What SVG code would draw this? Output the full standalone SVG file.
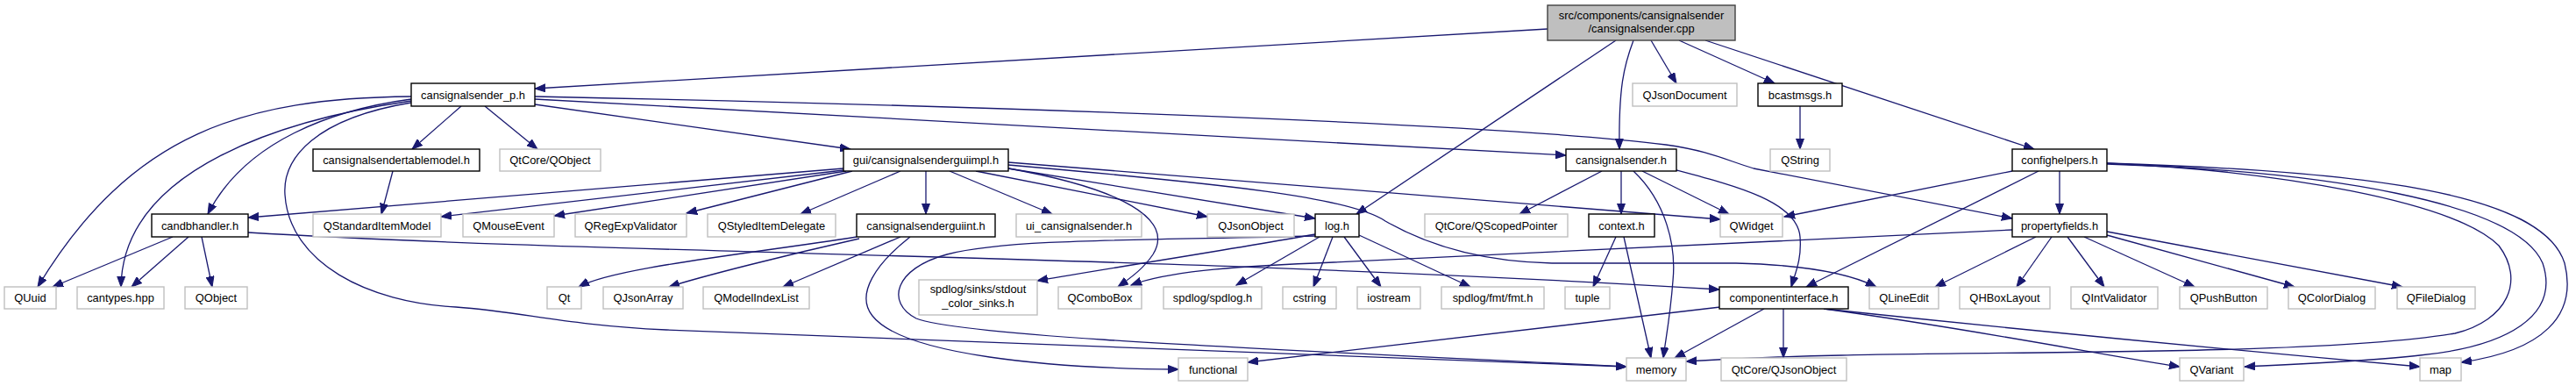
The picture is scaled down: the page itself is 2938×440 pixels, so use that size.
<svg xmlns="http://www.w3.org/2000/svg" width="2938" height="440" viewBox="0 0 2938 440">
<style>
text{font-family:"Liberation Sans",Arial,Helvetica,sans-serif;font-size:12.9px;fill:#000;text-anchor:middle}
.n{fill:#fff;stroke:#000;stroke-width:1.4}
.x{fill:#fff;stroke:#bfbfbf;stroke-width:1.4}
.r{fill:#bfbfbf;stroke:#404040;stroke-width:1.4}
.e path{fill:none;stroke:#191970;stroke-width:1.3;marker-end:url(#a)}
</style>
<defs>
<marker id="a" markerWidth="13" markerHeight="10" refX="12" refY="5" orient="auto" markerUnits="userSpaceOnUse">
<path d="M0,0.5 L12,5 L0,9.5 Z" fill="#191970" stroke="#191970" stroke-width="1"/>
</marker>
</defs>
<rect width="2938" height="440" fill="#fff"/>
<g class="e" id="edges">
<path d="M1765,33 L610,101"/>
<path d="M1843,46 L1547,244"/>
<path d="M1863,46 C1852,75 1846,100 1847,170"/>
<path d="M1883,46 L1912,95"/>
<path d="M1915,46 L2024,95"/>
<path d="M1945,46 L2320,170"/>
<path d="M469,110 C280,112 150,150 43,327"/>
<path d="M469,115 C330,135 140,190 138,327"/>
<path d="M469,113 C380,125 280,160 237,244"/>
<path d="M469,117 C360,135 322,180 325,222 C330,300 420,345 520,350 C600,356 640,370 760,376 L1855,418"/>
<path d="M526,121 L470,170"/>
<path d="M553,121 L613,170"/>
<path d="M610,119 L970,170"/>
<path d="M610,113 L1786,177"/>
<path d="M610,110 C1100,120 1700,140 1900,165 C1950,172 1970,183 2000,192 L2295,249"/>
<path d="M962,192 L283,248"/>
<path d="M962,194 L503,247"/>
<path d="M965,195 L632,246"/>
<path d="M972,195 L783,243"/>
<path d="M1027,195 L913,244"/>
<path d="M1056,195 L1056,244"/>
<path d="M1083,195 L1200,244"/>
<path d="M1113,195 L1377,247"/>
<path d="M1150,192 C1280,215 1340,250 1315,290 C1305,305 1292,315 1275,327"/>
<path d="M1150,192 L1500,249"/>
<path d="M1150,185 L1962,250"/>
<path d="M1150,188 C1400,210 1540,225 1580,252 C1620,275 1680,298 1770,300 L1980,300 C2060,302 2110,312 2140,327"/>
<path d="M977,270 C850,290 700,305 660,327"/>
<path d="M980,272 C900,290 800,315 763,327"/>
<path d="M1027,270 L893,327"/>
<path d="M1038,270 C1000,300 975,335 995,360 C1030,405 1200,420 1344,421"/>
<path d="M197,270 L60,327"/>
<path d="M215,270 L150,327"/>
<path d="M230,270 L242,327"/>
<path d="M283,265 C700,290 1300,290 1961,330"/>
<path d="M448,195 L435,244"/>
<path d="M1520,270 L1498,327"/>
<path d="M1533,270 L1575,327"/>
<path d="M1550,268 L1677,327"/>
<path d="M1505,270 L1410,325"/>
<path d="M1500,267 C1400,285 1300,300 1183,320"/>
<path d="M1500,269 C1300,274 1150,272 1080,290 C1020,306 1010,345 1045,363 C1100,385 1500,400 1855,418"/>
<path d="M1827,195 L1733,244"/>
<path d="M1849,195 L1849,244"/>
<path d="M1863,195 C1900,230 1912,280 1908,320 C1905,360 1900,385 1897,408"/>
<path d="M1873,195 L1972,244"/>
<path d="M1912,194 C1980,212 2050,230 2053,270 C2055,295 2048,310 2043,327"/>
<path d="M1843,270 L1817,327"/>
<path d="M1852,270 L1883,408"/>
<path d="M2295,195 L2035,247"/>
<path d="M2325,195 L2060,327"/>
<path d="M2349,195 L2349,244"/>
<path d="M2403,186 C2600,195 2800,230 2850,280 C2880,320 2860,365 2800,380 C2650,405 2300,400 2100,405 C2000,407 1960,410 1923,412"/>
<path d="M2403,187 C2650,195 2870,230 2900,300 C2920,360 2860,395 2760,405 C2700,412 2600,416 2560,418"/>
<path d="M2403,186 C2700,195 2900,220 2925,300 C2940,360 2900,400 2807,413"/>
<path d="M2295,262 L1500,300 C1400,304 1330,310 1290,325"/>
<path d="M2322,270 L2207,327"/>
<path d="M2340,270 L2300,327"/>
<path d="M2358,270 L2400,327"/>
<path d="M2377,270 L2503,327"/>
<path d="M2403,268 L2617,327"/>
<path d="M2403,264 L2740,327"/>
<path d="M1962,350 C1700,380 1500,403 1423,413"/>
<path d="M2012,352 L1910,408"/>
<path d="M2034,352 L2034,408"/>
<path d="M2080,352 C2250,375 2400,405 2486,418"/>
<path d="M2080,352 C2250,370 2500,395 2760,418"/>
<path d="M2053,121 L2053,170"/>
</g>
<g id="root"><rect class="r" x="1765" y="6" width="214" height="40"/><text x="1872" y="22">src/components/cansignalsender</text><text x="1872" y="37">/cansignalsender.cpp</text></g>
<g id="n_p_h"><rect class="n" x="469" y="95" width="141" height="26"/><text x="539.5" y="112.5">cansignalsender_p.h</text></g>
<g id="n_qjsondocument"><rect class="x" x="1862" y="95" width="119" height="26"/><text x="1921.5" y="112.5">QJsonDocument</text></g>
<g id="n_bcastmsgs"><rect class="n" x="2005" y="95" width="96" height="26"/><text x="2053" y="112.5">bcastmsgs.h</text></g>
<g id="n_tablemodel"><rect class="n" x="357" y="170" width="190" height="25"/><text x="452" y="187">cansignalsendertablemodel.h</text></g>
<g id="n_qtcore_qobject"><rect class="x" x="570" y="170" width="115" height="25"/><text x="627.5" y="187">QtCore/QObject</text></g>
<g id="n_guiimpl"><rect class="n" x="962" y="170" width="188" height="25"/><text x="1056" y="187">gui/cansignalsenderguiimpl.h</text></g>
<g id="n_cansignalsender_h"><rect class="n" x="1786" y="170" width="126" height="25"/><text x="1849" y="187">cansignalsender.h</text></g>
<g id="n_qstring"><rect class="x" x="2019" y="170" width="68" height="25"/><text x="2053" y="187">QString</text></g>
<g id="n_confighelpers"><rect class="n" x="2295" y="170" width="108" height="25"/><text x="2349" y="187">confighelpers.h</text></g>
<g id="n_candbhandler"><rect class="n" x="173" y="244" width="110" height="26"/><text x="228" y="261.5">candbhandler.h</text></g>
<g id="n_qstandarditemmodel"><rect class="x" x="357" y="244" width="146" height="26"/><text x="430" y="261.5">QStandardItemModel</text></g>
<g id="n_qmouseevent"><rect class="x" x="528" y="244" width="104" height="26"/><text x="580" y="261.5">QMouseEvent</text></g>
<g id="n_qregexpvalidator"><rect class="x" x="656" y="244" width="127" height="26"/><text x="719.5" y="261.5">QRegExpValidator</text></g>
<g id="n_qstyleditemdelegate"><rect class="x" x="807" y="244" width="146" height="26"/><text x="880" y="261.5">QStyledItemDelegate</text></g>
<g id="n_guiint"><rect class="n" x="977" y="244" width="158" height="26"/><text x="1056" y="261.5">cansignalsenderguiint.h</text></g>
<g id="n_ui"><rect class="x" x="1159" y="244" width="143" height="26"/><text x="1230.5" y="261.5">ui_cansignalsender.h</text></g>
<g id="n_qjsonobject"><rect class="x" x="1377" y="244" width="99" height="26"/><text x="1426.5" y="261.5">QJsonObject</text></g>
<g id="n_log"><rect class="n" x="1500" y="244" width="50" height="26"/><text x="1525" y="261.5">log.h</text></g>
<g id="n_qscopedpointer"><rect class="x" x="1625" y="244" width="163" height="26"/><text x="1706.5" y="261.5">QtCore/QScopedPointer</text></g>
<g id="n_context"><rect class="n" x="1812" y="244" width="75" height="26"/><text x="1849.5" y="261.5">context.h</text></g>
<g id="n_qwidget"><rect class="x" x="1962" y="244" width="71" height="26"/><text x="1997.5" y="261.5">QWidget</text></g>
<g id="n_propertyfields"><rect class="n" x="2295" y="244" width="108" height="26"/><text x="2349" y="261.5">propertyfields.h</text></g>
<g id="n_quuid"><rect class="x" x="5" y="327" width="59" height="25"/><text x="34.5" y="344">QUuid</text></g>
<g id="n_cantypes"><rect class="x" x="88" y="327" width="99" height="25"/><text x="137.5" y="344">cantypes.hpp</text></g>
<g id="n_qobject"><rect class="x" x="211" y="327" width="71" height="25"/><text x="246.5" y="344">QObject</text></g>
<g id="n_qt"><rect class="x" x="624" y="327" width="39" height="25"/><text x="643.5" y="344">Qt</text></g>
<g id="n_qjsonarray"><rect class="x" x="688" y="327" width="91" height="25"/><text x="733.5" y="344">QJsonArray</text></g>
<g id="n_qmodelindexlist"><rect class="x" x="802" y="327" width="121" height="25"/><text x="862.5" y="344">QModelIndexList</text></g>
<g id="n_sinks"><rect class="x" x="1048" y="319" width="135" height="40"/><text x="1115.5" y="334">spdlog/sinks/stdout</text><text x="1115.5" y="350">_color_sinks.h</text></g>
<g id="n_qcombobox"><rect class="x" x="1207" y="327" width="95" height="25"/><text x="1254.5" y="344">QComboBox</text></g>
<g id="n_spdlog"><rect class="x" x="1327" y="327" width="112" height="25"/><text x="1383" y="344">spdlog/spdlog.h</text></g>
<g id="n_cstring"><rect class="x" x="1463" y="327" width="61" height="25"/><text x="1493.5" y="344">cstring</text></g>
<g id="n_iostream"><rect class="x" x="1548" y="327" width="72" height="25"/><text x="1584" y="344">iostream</text></g>
<g id="n_fmt"><rect class="x" x="1644" y="327" width="117" height="25"/><text x="1702.5" y="344">spdlog/fmt/fmt.h</text></g>
<g id="n_tuple"><rect class="x" x="1785" y="327" width="51" height="25"/><text x="1810.5" y="344">tuple</text></g>
<g id="n_componentinterface"><rect class="n" x="1961" y="327" width="147" height="25"/><text x="2034.5" y="344">componentinterface.h</text></g>
<g id="n_qlineedit"><rect class="x" x="2132" y="327" width="79" height="25"/><text x="2171.5" y="344">QLineEdit</text></g>
<g id="n_qhboxlayout"><rect class="x" x="2235" y="327" width="103" height="25"/><text x="2286.5" y="344">QHBoxLayout</text></g>
<g id="n_qintvalidator"><rect class="x" x="2362" y="327" width="99" height="25"/><text x="2411.5" y="344">QIntValidator</text></g>
<g id="n_qpushbutton"><rect class="x" x="2486" y="327" width="100" height="25"/><text x="2536" y="344">QPushButton</text></g>
<g id="n_qcolordialog"><rect class="x" x="2610" y="327" width="99" height="25"/><text x="2659.5" y="344">QColorDialog</text></g>
<g id="n_qfiledialog"><rect class="x" x="2734" y="327" width="89" height="25"/><text x="2778.5" y="344">QFileDialog</text></g>
<g id="n_functional"><rect class="x" x="1344" y="408" width="79" height="26"/><text x="1383.5" y="425.5">functional</text></g>
<g id="n_memory"><rect class="x" x="1855" y="408" width="68" height="26"/><text x="1889" y="425.5">memory</text></g>
<g id="n_qtcore_qjsonobject"><rect class="x" x="1963" y="408" width="143" height="26"/><text x="2034.5" y="425.5">QtCore/QJsonObject</text></g>
<g id="n_qvariant"><rect class="x" x="2486" y="408" width="73" height="26"/><text x="2522.5" y="425.5">QVariant</text></g>
<g id="n_map"><rect class="x" x="2760" y="408" width="47" height="26"/><text x="2783.5" y="425.5">map</text></g>
</svg>
